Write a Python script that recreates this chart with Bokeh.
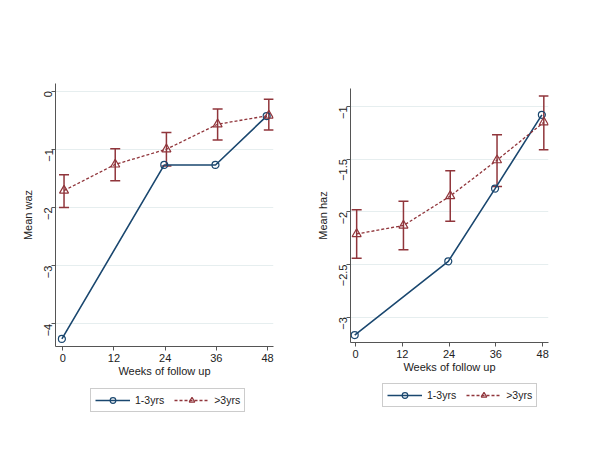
import math
from bokeh.plotting import figure
from bokeh.models import Range1d, FixedTicker, Whisker, ColumnDataSource, Legend, LegendItem, TeeHead
from bokeh.layouts import row, column
from bokeh.embed import file_html
from bokeh.resources import INLINE

weeks = [0, 12, 24, 36, 48]

# Left panel: Mean waz
waz_young_weeks = [0, 24, 36, 48]
waz_young = [-4.26, -1.27, -1.27, -0.43]
waz_old = [-1.71, -1.26, -1.00, -0.57, -0.42]
waz_old_lo = [-2.00, -1.54, -1.29, -0.84, -0.67]
waz_old_hi = [-1.44, -0.99, -0.71, -0.31, -0.14]

# Right panel: Mean haz
haz_young_weeks = [0, 24, 36, 48]
haz_young = [-3.17, -2.47, -1.78, -1.08]
haz_old = [-2.21, -2.13, -1.85, -1.51, -1.15]
haz_old_lo = [-2.44, -2.36, -2.09, -1.76, -1.41]
haz_old_hi = [-1.98, -1.90, -1.61, -1.27, -0.90]

series_labels = ["1-3yrs", ">3yrs"]
waz_ticks = [0, -1, -2, -3, -4]
haz_ticks = [-1, -1.5, -2, -2.5, -3]

NAVY = "#1a476f"
MAROON = "#90353b"
FONT = "Liberation Sans"
FS = "11px"
NAN = float("nan")


def style_line_glyphs(p, xs_y, ys_y, xs_o, ys_o):
    l1 = p.line(xs_y, ys_y, line_color=NAVY, line_width=1.6)
    s1 = p.scatter(xs_y, ys_y, marker="circle", size=7, line_color=NAVY, fill_color=None, line_width=1.2)
    l2 = p.line(xs_o, ys_o, line_color=MAROON, line_width=1.3, line_dash="3 2")
    s2 = p.scatter(xs_o, ys_o, marker="triangle", size=9, line_color=MAROON, fill_color=None, line_width=1.2)
    return l1, s1, l2, s2


def make_panel(ylabel, yw, yv, ov, olo, ohi, xr, yr, yticks, fw, fh, borders):
    bl, br, bt, bb = borders
    p = figure(frame_width=fw, frame_height=fh, output_backend="svg", toolbar_location=None,
               x_range=Range1d(*xr), y_range=Range1d(*yr),
               min_border_left=bl, min_border_right=br, min_border_top=bt, min_border_bottom=bb)
    p.outline_line_color = None
    p.background_fill_color = "white"
    p.border_fill_color = "white"
    p.xgrid.grid_line_color = None
    p.ygrid.grid_line_color = "#e6eeef"
    p.ygrid.grid_line_width = 1
    p.ygrid.ticker = FixedTicker(ticks=yticks)

    for ax in (p.xaxis[0], p.yaxis[0]):
        ax.axis_line_color = "#555555"
        ax.major_tick_line_color = "#555555"
        ax.minor_tick_line_color = None
        ax.major_tick_out = 4
        ax.major_tick_in = 0
        ax.major_label_text_font = FONT
        ax.major_label_text_font_size = FS
        ax.major_label_text_color = "#222222"
        ax.axis_label_text_font = FONT
        ax.axis_label_text_font_size = FS
        ax.axis_label_text_font_style = "normal"
        ax.axis_label_text_color = "#222222"
    p.xaxis.ticker = FixedTicker(ticks=weeks)
    p.yaxis.ticker = FixedTicker(ticks=yticks)
    p.yaxis.major_label_orientation = math.pi / 2
    p.xaxis.axis_label = "Weeks of follow up"
    p.yaxis.axis_label = ylabel
    p.xaxis.axis_label_standoff = 0
    p.yaxis.axis_label_standoff = 4
    p.xaxis.major_label_standoff = 3
    p.yaxis.major_label_standoff = 3

    ox = [x + 0.3 for x in weeks]
    yx = [x - 0.2 for x in yw]
    src = ColumnDataSource(dict(x=ox, lo=olo, hi=ohi))
    wh = Whisker(base="x", lower="lo", upper="hi", source=src, dimension="height",
                 line_color=MAROON, line_width=1.5,
                 upper_head=TeeHead(size=10, line_color=MAROON, line_width=1.5),
                 lower_head=TeeHead(size=10, line_color=MAROON, line_width=1.5))
    p.add_layout(wh)
    style_line_glyphs(p, yx, yv, ox, ov)
    return p


def make_legend_fig(w, h, loc):
    f = figure(width=w, height=h, output_backend="svg", toolbar_location=None,
               x_axis_type=None, y_axis_type=None,
               x_range=Range1d(0, 1), y_range=Range1d(0, 1),
               min_border=0)
    f.outline_line_color = None
    f.xgrid.grid_line_color = None
    f.ygrid.grid_line_color = None
    # legend-only sample renderers (no visible data)
    l1, s1, l2, s2 = style_line_glyphs(f, [NAN], [NAN], [NAN], [NAN])
    leg = Legend(items=[LegendItem(label=series_labels[0], renderers=[l1, s1]),
                        LegendItem(label=series_labels[1], renderers=[l2, s2])],
                 orientation="horizontal", location=loc,
                 label_text_font=FONT, label_text_font_size="10.5px", label_text_color="#222222",
                 border_line_color="#999999", border_line_width=1,
                 background_fill_color="white",
                 glyph_width=35, glyph_height=14, label_standoff=5, spacing=10,
                 padding=4, margin=0, label_height=14)
    f.add_layout(leg, "center")
    return f


p1 = make_panel("Mean waz", waz_young_weeks, waz_young, waz_old, waz_old_lo, waz_old_hi,
                (-1.7, 49.4), (-4.39, 0.13), waz_ticks, 218, 263, (55, 27, 83, 35))
p2 = make_panel("Mean haz", haz_young_weeks, haz_young, haz_old, haz_old_lo, haz_old_hi,
                (-1.28, 49.5), (-3.24, -0.83), haz_ticks, 198, 254, (50, 44, 88, 35))
g1 = make_legend_fig(300, 50, (35, 19))
g2 = make_legend_fig(292, 50, (32, 20))

layout = row(column(p1, g1), column(p2, g2))
open("out.html", "w").write(file_html(layout, INLINE))
